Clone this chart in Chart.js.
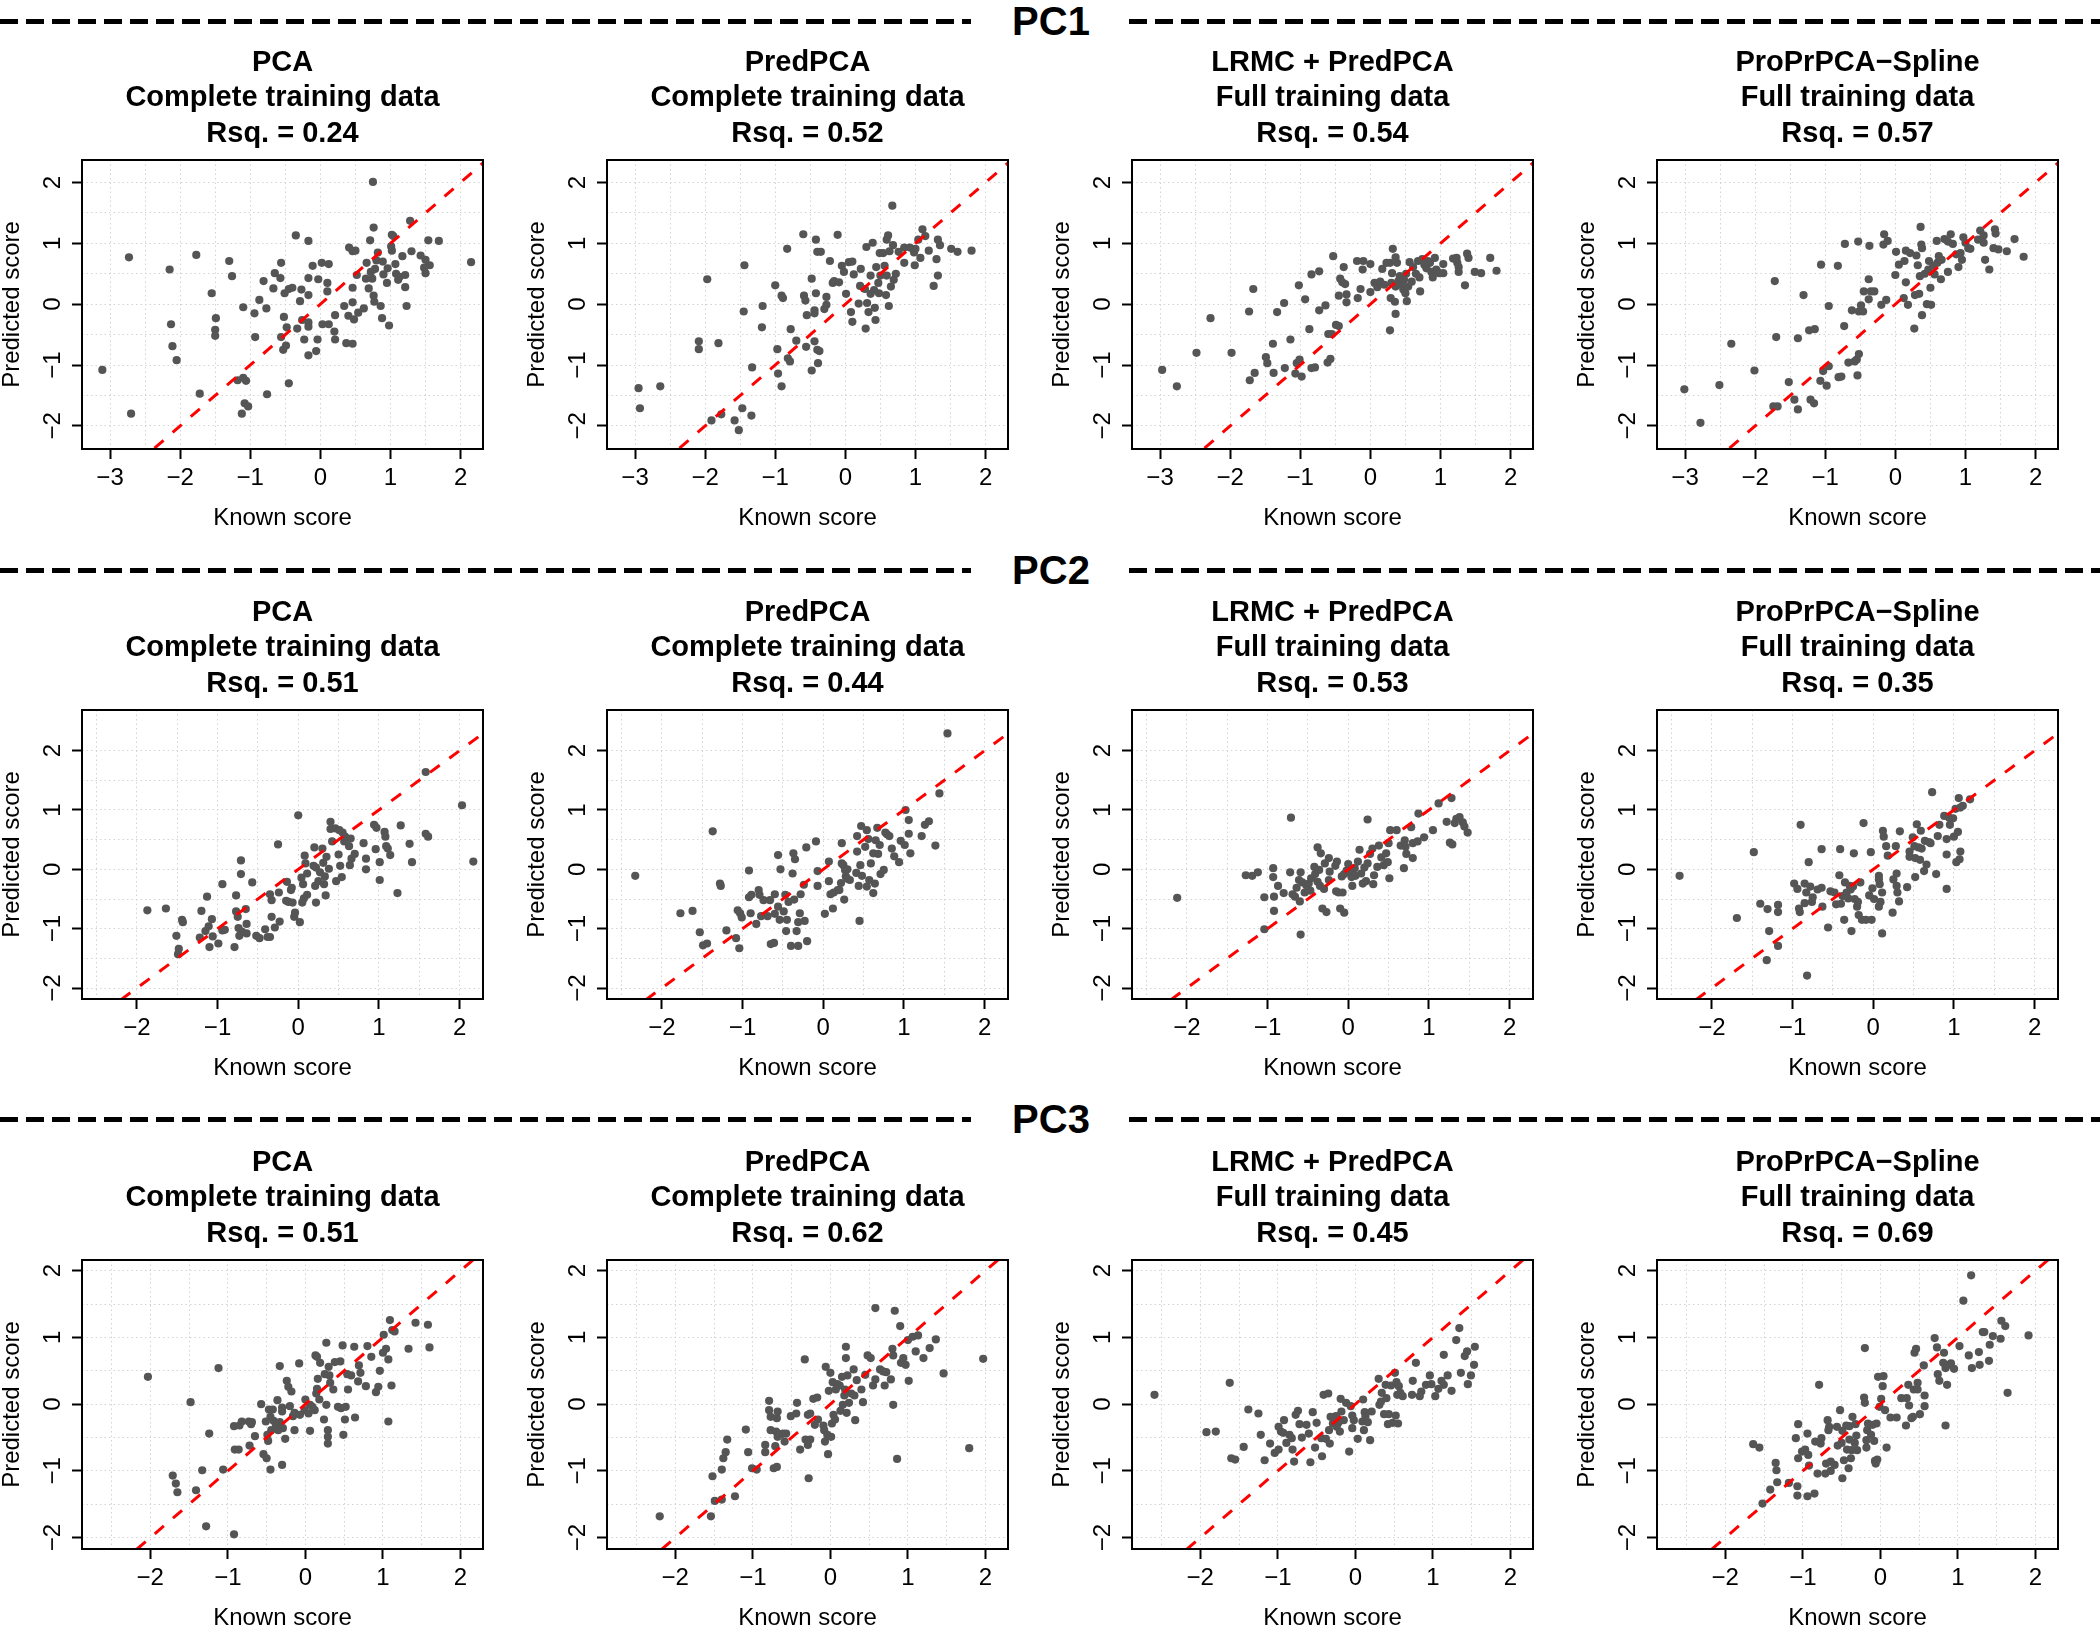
<!DOCTYPE html>
<html><head><meta charset="utf-8">
<script src="https://cdn.jsdelivr.net/npm/chart.js@4.4.1/dist/chart.umd.min.js"></script>
<style>
html,body{margin:0;padding:0;background:#fff;}
#root{position:relative;width:2100px;height:1650px;overflow:hidden;background:#fff;font-family:'Liberation Sans',Arial,sans-serif;}
.panel{position:absolute;}
.hdr-line{position:absolute;height:5px;background:repeating-linear-gradient(to right,#000 0 18px,rgba(0,0,0,0) 18px 26px);}
.hdr-text{position:absolute;font-weight:bold;font-size:40px;line-height:40px;width:160px;text-align:center;color:#000;}
</style></head><body><div id="root"></div>
<script>
const components = ['PC1', 'PC2', 'PC3'];
const methods = ['PCA', 'PredPCA', 'LRMC + PredPCA', 'ProPrPCA\u2212Spline'];
const trainingLabels = ['Complete training data', 'Complete training data', 'Full training data', 'Full training data'];
const rsq = [[0.24, 0.52, 0.54, 0.57], [0.51, 0.44, 0.53, 0.35], [0.51, 0.62, 0.45, 0.69]];
const xLimits = [[-3.40, 2.32], [-2.68, 2.29], [-2.88, 2.29]];
const yLimits = [[-2.38, 2.37], [-2.185, 2.685], [-2.17, 2.16]];
const gridStep = 0.5;
const yGridRange = [-2, 2];
const xAxisTitle = 'Known score';
const yAxisTitle = 'Predicted score';

// [known score, predicted score]
const pc1_PCA = [[-3.11,-1.08],[-2.73,0.77],[-2.70,-1.80],[-2.15,0.57],[-2.13,-0.33],[-2.11,-0.69],[-2.05,-0.92],[-1.77,0.81],[-1.72,-1.47],[-1.55,0.18],[-1.49,-0.23],[-1.50,-0.42],[-1.50,-0.52],[-1.30,0.71],[-1.26,0.46],[-1.18,-1.25],[-1.10,-1.21],[-1.06,-1.26],[-1.10,-0.05],[-1.08,-1.63],[-1.03,-1.68],[-1.12,-1.80],[-0.94,-0.15],[-0.93,-0.54],[-0.87,0.07],[-0.81,0.38],[-0.77,-0.07],[-0.76,-1.48],[-0.67,0.26],[-0.65,0.51],[-0.57,0.43],[-0.56,0.68],[-0.56,-0.54],[-0.52,-0.21],[-0.51,0.18],[-0.49,-0.68],[-0.53,-0.75],[-0.48,-0.38],[-0.45,0.25],[-0.40,0.27],[-0.45,-1.30],[-0.35,1.13],[-0.33,-0.40],[-0.29,0.05],[-0.27,0.24],[-0.26,-0.26],[-0.23,-0.58],[-0.17,-0.30],[-0.17,-0.37],[-0.17,0.15],[-0.17,0.43],[-0.17,1.04],[-0.17,-0.84],[-0.11,0.63],[-0.06,-0.77],[-0.04,-0.58],[-0.03,0.41],[0.02,0.68],[0.03,-0.33],[0.10,0.35],[0.10,0.21],[0.12,0.66],[0.12,-0.33],[0.20,-0.45],[0.21,-0.58],[0.21,-0.18],[0.34,-0.03],[0.37,-0.64],[0.40,-0.19],[0.41,0.93],[0.46,0.87],[0.46,-0.65],[0.46,0.27],[0.46,0.03],[0.48,-0.25],[0.50,0.88],[0.52,0.48],[0.54,-0.14],[0.62,-0.07],[0.65,0.42],[0.66,0.68],[0.69,0.26],[0.71,1.05],[0.72,0.53],[0.74,0.42],[0.75,2.01],[0.76,0.14],[0.76,1.26],[0.77,0.04],[0.78,0.58],[0.82,0.85],[0.80,0.72],[0.86,-0.03],[0.88,-0.23],[0.89,0.70],[0.90,0.49],[0.95,0.35],[0.96,0.59],[0.98,-0.35],[1.02,1.14],[1.02,0.88],[1.04,1.12],[1.01,0.95],[1.07,0.66],[1.08,0.50],[1.11,0.40],[1.13,0.45],[1.17,0.79],[1.21,0.48],[1.21,0.28],[1.23,-0.03],[1.28,1.37],[1.30,0.87],[1.43,0.80],[1.50,0.73],[1.56,0.64],[1.48,0.60],[1.50,0.51],[1.54,1.05],[1.69,1.04],[2.15,0.69]];
const pc1_PredPCA = [[-2.95,-1.38],[-2.93,-1.71],[-2.64,-1.35],[-2.09,-0.61],[-2.09,-0.74],[-1.97,0.41],[-1.91,-1.91],[-1.81,-0.64],[-1.77,-1.81],[-1.58,-1.91],[-1.52,-2.07],[-1.47,-1.71],[-1.45,-0.12],[-1.44,0.64],[-1.34,-1.83],[-1.33,-1.04],[-1.19,-0.38],[-1.18,-0.03],[-1.00,0.31],[-0.97,-0.74],[-0.96,-1.14],[-0.91,-1.35],[-0.91,0.14],[-0.89,0.10],[-0.83,0.91],[-0.82,-0.89],[-0.79,-0.94],[-0.78,-0.41],[-0.70,-0.60],[-0.60,1.15],[-0.59,0.14],[-0.57,0.06],[-0.56,-0.70],[-0.55,-0.18],[-0.48,0.42],[-0.48,-1.09],[-0.44,-0.61],[-0.44,-0.15],[-0.44,-0.10],[-0.42,0.18],[-0.42,1.06],[-0.40,0.86],[-0.35,0.86],[-0.40,-0.75],[-0.37,-0.77],[-0.39,-0.97],[-0.30,-0.08],[-0.27,0.12],[-0.27,-0.01],[-0.22,0.71],[-0.18,0.35],[-0.16,0.38],[-0.11,1.14],[-0.09,0.36],[-0.05,0.63],[-0.02,0.53],[0.01,0.17],[0.05,0.69],[0.08,-0.13],[0.10,-0.29],[0.10,0.70],[0.12,0.49],[0.19,0.01],[0.21,0.30],[0.22,0.58],[0.28,0.25],[0.29,-0.40],[0.30,0.94],[0.31,0.02],[0.33,-0.13],[0.36,0.17],[0.36,0.47],[0.39,1.01],[0.41,0.23],[0.42,-0.06],[0.43,-0.26],[0.44,0.61],[0.47,0.35],[0.48,0.18],[0.49,0.84],[0.50,0.47],[0.54,0.84],[0.56,0.63],[0.58,0.15],[0.59,0.47],[0.59,1.06],[0.61,1.13],[0.62,-0.03],[0.63,0.87],[0.65,0.29],[0.67,1.62],[0.68,0.97],[0.69,0.40],[0.72,0.50],[0.76,0.86],[0.84,0.68],[0.84,0.93],[0.92,0.93],[0.98,0.85],[0.99,0.64],[1.00,0.91],[1.04,1.06],[1.07,0.76],[1.10,1.23],[1.14,1.12],[1.19,0.88],[1.26,0.30],[1.30,0.74],[1.32,0.47],[1.32,1.06],[1.35,0.97],[1.51,0.91],[1.60,0.86],[1.80,0.88]];
const pc1_LRMC = [[-2.97,-1.08],[-2.76,-1.35],[-2.48,-0.80],[-2.28,-0.23],[-1.98,-0.80],[-1.73,-0.12],[-1.72,-1.25],[-1.67,0.25],[-1.65,-1.13],[-1.49,-0.87],[-1.47,-0.97],[-1.39,-0.65],[-1.38,-1.13],[-1.33,-0.13],[-1.23,0.02],[-1.22,-1.05],[-1.14,-0.58],[-1.07,-1.14],[-1.05,-0.97],[-1.02,0.31],[-1.01,-0.91],[-0.98,-1.19],[-0.93,0.08],[-0.87,-0.41],[-0.84,0.49],[-0.84,-1.05],[-0.79,-1.04],[-0.73,0.54],[-0.73,-0.10],[-0.64,-0.02],[-0.61,-0.96],[-0.60,-0.49],[-0.55,-0.49],[-0.57,-0.90],[-0.53,0.79],[-0.49,-0.34],[-0.45,-0.36],[-0.45,0.14],[-0.43,0.42],[-0.40,0.36],[-0.38,0.61],[-0.36,0.33],[-0.34,0.16],[-0.34,0.03],[-0.19,0.71],[-0.18,0.10],[-0.14,0.25],[-0.11,0.57],[-0.10,0.71],[0.00,0.66],[0.00,0.20],[0.06,0.35],[0.10,0.28],[0.14,0.37],[0.17,0.58],[0.20,0.32],[0.23,0.68],[0.28,0.68],[0.28,-0.43],[0.29,0.10],[0.30,0.35],[0.31,0.51],[0.32,0.91],[0.35,0.04],[0.36,-0.16],[0.36,0.29],[0.36,0.77],[0.38,0.68],[0.40,0.38],[0.42,0.46],[0.44,0.32],[0.47,0.24],[0.48,0.40],[0.50,0.18],[0.51,0.50],[0.52,0.05],[0.54,0.29],[0.56,0.69],[0.59,0.37],[0.61,0.61],[0.65,0.50],[0.68,0.71],[0.70,0.44],[0.71,0.21],[0.74,0.74],[0.77,0.65],[0.80,0.59],[0.82,0.71],[0.85,0.68],[0.87,0.53],[0.89,0.44],[0.92,0.76],[0.94,0.57],[0.98,0.51],[1.04,0.51],[1.04,0.66],[1.18,0.75],[1.23,0.76],[1.24,0.68],[1.26,0.61],[1.26,0.53],[1.35,0.31],[1.38,0.83],[1.40,0.76],[1.49,0.53],[1.58,0.51],[1.71,0.76],[1.80,0.55]];
const pc1_Spline = [[-3.01,-1.40],[-2.78,-1.95],[-2.51,-1.33],[-2.34,-0.65],[-2.01,-1.09],[-1.74,-1.68],[-1.68,-1.68],[-1.72,0.38],[-1.70,-0.54],[-1.52,-1.28],[-1.44,-1.57],[-1.39,-1.73],[-1.39,-0.56],[-1.31,0.15],[-1.23,-0.43],[-1.15,-0.41],[-1.21,-1.57],[-1.16,-1.63],[-1.07,-1.26],[-1.06,0.65],[-1.03,-1.10],[-0.98,-1.34],[-0.95,-1.02],[-0.95,-0.03],[-0.82,0.63],[-0.81,-1.20],[-0.77,-1.19],[-0.73,-0.36],[-0.72,0.99],[-0.67,-0.96],[-0.62,-0.10],[-0.58,-0.94],[-0.55,-0.91],[-0.53,1.03],[-0.52,-0.82],[-0.54,-1.17],[-0.52,-0.12],[-0.49,-0.02],[-0.46,-0.12],[-0.45,0.21],[-0.38,0.41],[-0.38,0.08],[-0.37,0.96],[-0.35,0.21],[-0.30,0.21],[-0.20,-0.01],[-0.17,0.98],[-0.16,1.15],[-0.13,0.07],[-0.11,1.04],[0.00,0.48],[0.01,0.86],[0.05,0.65],[0.12,0.10],[0.13,0.71],[0.15,0.88],[0.15,0.36],[0.18,-0.01],[0.21,0.84],[0.27,-0.40],[0.28,0.15],[0.30,0.80],[0.32,0.64],[0.34,0.17],[0.35,0.46],[0.36,1.27],[0.37,0.98],[0.38,-0.18],[0.38,0.92],[0.42,0.50],[0.45,0.00],[0.47,0.57],[0.48,0.71],[0.50,0.27],[0.51,-0.01],[0.54,0.63],[0.56,0.49],[0.59,1.04],[0.60,0.68],[0.62,0.79],[0.65,0.41],[0.66,0.73],[0.70,1.07],[0.75,0.53],[0.75,1.03],[0.79,1.15],[0.82,0.99],[0.87,0.82],[0.90,0.61],[0.93,0.84],[0.95,0.73],[0.97,1.10],[1.00,1.01],[1.04,0.92],[1.07,0.91],[1.18,1.06],[1.21,1.21],[1.26,1.13],[1.26,1.01],[1.28,0.73],[1.34,0.57],[1.40,0.92],[1.42,1.23],[1.43,1.16],[1.47,0.90],[1.59,0.87],[1.70,1.07],[1.83,0.78]];
const pc2_PCA = [[-1.87,-0.69],[-1.64,-0.66],[-1.51,-1.12],[-1.48,-1.34],[-1.49,-1.43],[-1.44,-0.85],[-1.43,-0.89],[-1.22,-1.15],[-1.20,-0.70],[-1.15,-1.04],[-1.13,-0.46],[-1.11,-0.96],[-1.10,-1.31],[-1.07,-0.84],[-1.06,-1.13],[-0.99,-1.25],[-0.94,-0.25],[-0.94,-1.03],[-0.91,-1.02],[-0.79,-1.31],[-0.77,-0.44],[-0.77,-0.71],[-0.75,-0.80],[-0.74,-0.99],[-0.73,-1.12],[-0.71,0.15],[-0.71,-0.08],[-0.70,-1.05],[-0.65,-0.67],[-0.64,-0.92],[-0.64,-1.08],[-0.57,-0.22],[-0.52,-1.12],[-0.48,-1.16],[-0.41,-1.01],[-0.38,-1.14],[-0.35,-1.14],[-0.35,-0.42],[-0.33,-0.52],[-0.33,-0.80],[-0.29,-0.98],[-0.25,0.42],[-0.24,-0.39],[-0.23,-0.88],[-0.15,-0.53],[-0.14,-0.21],[-0.12,-0.55],[-0.09,-0.35],[-0.08,-0.31],[-0.07,-0.56],[-0.05,-0.80],[-0.04,-0.73],[0.00,0.91],[0.02,-0.89],[0.04,-0.14],[0.05,-0.56],[0.06,-0.25],[0.07,-0.49],[0.08,0.23],[0.09,0.10],[0.11,-0.43],[0.11,-0.07],[0.19,0.06],[0.20,0.37],[0.21,-0.28],[0.22,0.03],[0.22,-0.56],[0.25,-0.20],[0.27,-0.05],[0.30,0.35],[0.31,0.11],[0.32,-0.25],[0.33,-0.12],[0.34,-0.44],[0.35,0.21],[0.38,0.01],[0.40,0.80],[0.42,0.47],[0.40,0.68],[0.46,0.69],[0.47,-0.20],[0.50,0.25],[0.51,0.66],[0.52,0.06],[0.54,-0.13],[0.55,0.62],[0.57,0.47],[0.58,0.55],[0.63,0.39],[0.64,0.07],[0.65,0.52],[0.66,0.18],[0.70,0.26],[0.81,0.44],[0.84,0.18],[0.84,0.00],[0.94,0.75],[0.96,0.34],[0.97,0.70],[1.01,-0.18],[1.01,0.12],[1.07,0.63],[1.08,0.55],[1.09,0.39],[1.11,0.35],[1.14,0.24],[1.23,-0.40],[1.27,0.74],[1.38,0.43],[1.41,0.12],[1.58,1.64],[1.58,0.60],[1.61,0.55],[2.03,1.08],[2.17,0.13]];
const pc2_PredPCA = [[-2.33,-0.11],[-1.77,-0.74],[-1.62,-0.70],[-1.53,-1.06],[-1.49,-1.28],[-1.44,-1.25],[-1.37,0.64],[-1.28,-0.24],[-1.27,-0.28],[-1.20,-1.03],[-1.08,-1.16],[-1.06,-0.69],[-1.04,-1.33],[-1.03,-0.74],[-1.01,-0.81],[-0.92,-0.02],[-0.92,-0.47],[-0.90,-0.74],[-0.89,-0.43],[-0.83,-0.92],[-0.80,-0.35],[-0.79,-0.43],[-0.77,-0.79],[-0.74,-0.52],[-0.69,-0.79],[-0.66,-0.52],[-0.65,-1.26],[-0.61,-1.24],[-0.60,-0.42],[-0.60,-0.75],[-0.56,0.24],[-0.56,-0.63],[-0.54,-0.85],[-0.53,0.00],[-0.49,-0.71],[-0.47,-0.43],[-0.46,-1.04],[-0.45,-0.85],[-0.43,-0.55],[-0.40,-1.29],[-0.38,-0.07],[-0.37,0.27],[-0.36,-0.51],[-0.35,0.17],[-0.33,-1.04],[-0.31,-1.29],[-0.31,-0.89],[-0.29,-0.74],[-0.28,-0.42],[-0.24,-0.26],[-0.23,-0.87],[-0.21,0.37],[-0.20,-1.21],[-0.09,0.47],[-0.07,-0.03],[-0.07,-0.28],[0.02,-0.75],[0.07,0.13],[0.07,-0.20],[0.09,-0.42],[0.12,-0.66],[0.13,-0.39],[0.18,-0.35],[0.20,-0.35],[0.22,-0.23],[0.23,0.44],[0.23,0.10],[0.25,0.07],[0.26,-0.51],[0.27,-0.01],[0.28,-0.12],[0.30,0.00],[0.30,-0.16],[0.33,-0.18],[0.41,-0.06],[0.42,0.30],[0.42,0.56],[0.44,-0.28],[0.45,-0.87],[0.46,0.07],[0.47,0.73],[0.48,-0.11],[0.52,0.38],[0.54,-0.29],[0.54,0.66],[0.56,0.51],[0.57,-0.18],[0.59,0.10],[0.62,0.27],[0.62,-0.40],[0.64,-0.24],[0.65,0.49],[0.67,0.70],[0.68,0.26],[0.70,0.41],[0.71,-0.08],[0.75,-0.01],[0.77,0.62],[0.79,0.59],[0.82,0.56],[0.85,0.35],[0.88,0.22],[0.94,0.12],[0.96,0.48],[1.01,0.41],[1.02,1.00],[1.06,0.83],[1.06,0.60],[1.08,0.27],[1.22,0.56],[1.26,0.75],[1.31,0.81],[1.39,0.40],[1.44,1.28],[1.54,2.29]];
const pc2_LRMC = [[-2.12,-0.48],[-1.27,-0.10],[-1.19,-0.11],[-1.12,-0.05],[-1.04,-1.01],[-1.04,-0.47],[-0.93,0.02],[-0.93,-0.13],[-0.92,-0.46],[-0.92,-0.70],[-0.87,-0.28],[-0.80,-0.40],[-0.72,-0.05],[-0.71,0.87],[-0.69,-0.42],[-0.66,-0.46],[-0.64,-0.31],[-0.61,-0.18],[-0.60,-0.54],[-0.59,-1.10],[-0.59,-0.05],[-0.57,-0.22],[-0.54,-0.39],[-0.52,-0.27],[-0.49,-0.24],[-0.47,-0.36],[-0.46,-0.15],[-0.42,0.04],[-0.41,-0.08],[-0.38,-0.21],[-0.38,0.37],[-0.36,-0.01],[-0.35,-0.28],[-0.34,0.27],[-0.32,-0.66],[-0.30,-0.33],[-0.29,0.10],[-0.27,-0.72],[-0.24,0.19],[-0.24,-0.18],[-0.23,-0.04],[-0.16,0.06],[-0.15,-0.37],[-0.14,0.13],[-0.12,-0.39],[-0.10,-0.66],[-0.08,-0.12],[-0.07,-0.39],[-0.05,-0.08],[-0.05,-0.73],[-0.02,-0.02],[0.00,0.09],[0.02,-0.04],[0.04,-0.13],[0.05,-0.28],[0.08,0.02],[0.09,-0.11],[0.12,0.13],[0.14,0.33],[0.16,-0.07],[0.18,-0.24],[0.20,0.03],[0.22,-0.20],[0.24,0.10],[0.24,0.84],[0.27,0.26],[0.30,0.35],[0.31,-0.25],[0.32,-0.10],[0.36,0.04],[0.38,0.40],[0.41,0.20],[0.44,0.07],[0.47,0.27],[0.49,0.12],[0.50,0.44],[0.51,-0.15],[0.52,0.66],[0.60,0.66],[0.65,0.40],[0.69,0.02],[0.70,0.49],[0.71,0.38],[0.72,0.26],[0.78,0.71],[0.80,0.44],[0.80,0.19],[0.86,0.47],[0.87,0.94],[0.94,0.54],[1.05,0.66],[1.12,1.11],[1.22,0.80],[1.26,0.45],[1.28,1.20],[1.29,0.42],[1.32,0.78],[1.34,0.85],[1.38,0.88],[1.42,0.79],[1.44,0.72],[1.48,0.62]];
const pc2_Spline = [[-2.40,-0.11],[-1.69,-0.82],[-1.48,0.29],[-1.40,-0.58],[-1.31,-0.67],[-1.32,-1.53],[-1.29,-1.04],[-1.18,-0.60],[-1.18,-0.72],[-1.18,-1.29],[-0.98,-0.24],[-0.94,-0.33],[-0.92,-0.66],[-0.91,-0.72],[-0.90,0.75],[-0.85,-0.24],[-0.85,-0.57],[-0.83,-0.39],[-0.82,-1.79],[-0.80,0.12],[-0.78,-0.29],[-0.76,-0.55],[-0.75,-0.47],[-0.69,-0.34],[-0.64,-0.31],[-0.64,0.34],[-0.63,-0.63],[-0.56,-0.98],[-0.53,-0.37],[-0.48,-0.39],[-0.46,-0.59],[-0.42,-0.10],[-0.41,0.34],[-0.40,-0.58],[-0.38,-0.45],[-0.36,-0.85],[-0.35,-0.22],[-0.33,-0.39],[-0.31,-0.49],[-0.29,-0.28],[-0.28,-0.34],[-0.27,-1.04],[-0.25,-0.29],[-0.24,0.27],[-0.23,-0.50],[-0.20,-0.63],[-0.19,-0.55],[-0.18,-0.77],[-0.16,-0.22],[-0.14,-0.85],[-0.12,0.78],[-0.09,-0.85],[-0.05,-0.44],[-0.03,0.29],[-0.02,-0.85],[-0.01,-0.32],[0.01,-0.50],[0.07,-0.11],[0.07,-0.17],[0.07,-0.63],[0.08,-0.25],[0.09,-0.55],[0.11,-1.08],[0.11,-0.39],[0.12,0.65],[0.13,0.55],[0.16,0.39],[0.18,0.23],[0.24,-0.73],[0.25,-0.17],[0.28,0.39],[0.29,-0.07],[0.29,-0.28],[0.30,-0.39],[0.32,-0.54],[0.33,0.64],[0.42,-0.30],[0.45,0.30],[0.45,0.21],[0.49,0.54],[0.51,0.39],[0.52,-0.13],[0.52,0.19],[0.54,0.76],[0.56,0.37],[0.58,0.16],[0.59,0.65],[0.60,0.35],[0.63,-0.03],[0.64,0.48],[0.66,0.08],[0.69,0.46],[0.71,0.44],[0.73,1.30],[0.78,-0.08],[0.80,0.56],[0.82,0.75],[0.88,0.90],[0.91,0.51],[0.91,0.25],[0.91,-0.33],[0.94,0.87],[0.95,0.75],[0.99,0.86],[1.00,0.55],[1.02,1.02],[1.03,0.12],[1.05,0.63],[1.06,1.20],[1.07,0.17],[1.08,1.04],[1.08,0.30],[1.11,1.07],[1.20,1.18]];
const pc3_PCA = [[-2.03,0.41],[-1.71,-1.07],[-1.67,-1.19],[-1.65,-1.32],[-1.48,0.03],[-1.41,-1.29],[-1.33,-0.99],[-1.28,-1.83],[-1.24,-0.44],[-1.12,0.54],[-1.06,-0.98],[-0.92,-0.33],[-0.92,-1.95],[-0.91,-0.68],[-0.86,-0.68],[-0.85,-0.32],[-0.82,-0.26],[-0.73,-0.26],[-0.72,-0.62],[-0.70,-0.30],[-0.69,-0.27],[-0.65,-0.48],[-0.54,-0.75],[-0.50,-0.81],[-0.57,0.00],[-0.51,-0.26],[-0.49,-0.46],[-0.48,-0.55],[-0.47,-0.08],[-0.45,-0.19],[-0.45,-0.98],[-0.44,-0.39],[-0.42,-0.08],[-0.41,-0.25],[-0.38,-0.31],[-0.36,0.06],[-0.35,-0.39],[-0.33,0.57],[-0.33,-0.27],[-0.30,-0.05],[-0.30,-0.11],[-0.29,-0.36],[-0.30,-0.91],[-0.26,-0.52],[-0.24,0.35],[-0.22,0.26],[-0.20,-0.03],[-0.18,0.19],[-0.16,-0.18],[-0.14,-0.39],[-0.14,-0.13],[-0.08,0.61],[-0.07,-0.16],[-0.01,-0.09],[0.00,0.07],[0.04,-0.14],[0.06,-0.40],[0.06,-0.01],[0.09,-0.04],[0.12,-0.09],[0.13,0.73],[0.15,0.71],[0.14,0.16],[0.15,0.23],[0.16,0.38],[0.18,0.07],[0.19,0.62],[0.24,-0.23],[0.25,0.45],[0.27,-0.01],[0.27,0.92],[0.29,-0.39],[0.29,-0.49],[0.29,-0.59],[0.30,0.56],[0.31,0.43],[0.32,0.32],[0.36,0.22],[0.38,0.63],[0.42,-0.04],[0.45,0.64],[0.46,-0.06],[0.48,0.88],[0.49,-0.46],[0.51,-0.23],[0.52,-0.04],[0.54,0.45],[0.55,0.22],[0.59,0.43],[0.63,0.86],[0.64,-0.20],[0.68,0.34],[0.69,0.58],[0.71,0.47],[0.78,0.27],[0.80,0.87],[0.85,0.71],[0.91,0.18],[0.94,0.26],[0.96,0.50],[1.00,0.77],[1.01,1.04],[1.04,0.83],[1.07,0.67],[1.07,-0.26],[1.09,1.26],[1.11,0.28],[1.12,1.11],[1.15,1.09],[1.33,0.83],[1.42,1.22],[1.58,1.19],[1.60,0.85]];
const pc3_PredPCA = [[-2.20,-1.68],[-1.54,-1.68],[-1.52,-1.08],[-1.49,-1.45],[-1.40,-1.43],[-1.40,-0.98],[-1.38,-0.81],[-1.35,-0.72],[-1.33,-0.53],[-1.23,-1.38],[-1.09,-0.38],[-1.06,-0.72],[-1.01,-0.96],[-0.95,-0.98],[-0.84,-0.61],[-0.84,-0.72],[-0.79,0.05],[-0.79,-0.09],[-0.77,-0.39],[-0.77,-0.19],[-0.73,-0.96],[-0.71,-0.63],[-0.70,-0.41],[-0.69,-0.94],[-0.69,-0.21],[-0.68,-0.11],[-0.68,-0.49],[-0.64,-0.45],[-0.61,-0.44],[-0.59,-0.56],[-0.57,-0.44],[-0.51,-0.18],[-0.44,-0.14],[-0.43,0.02],[-0.39,-0.68],[-0.33,0.67],[-0.32,-0.53],[-0.29,-0.16],[-0.29,-0.61],[-0.28,-1.11],[-0.26,-0.53],[-0.26,-0.14],[-0.22,0.08],[-0.20,-0.31],[-0.17,0.10],[-0.16,-0.23],[-0.09,-0.32],[-0.08,-0.39],[-0.07,-0.56],[-0.06,0.56],[-0.04,-0.46],[-0.03,-0.75],[-0.02,0.20],[0.00,0.47],[0.01,-0.49],[0.02,-0.29],[0.03,0.33],[0.04,-0.16],[0.06,-0.23],[0.07,0.22],[0.09,0.30],[0.12,0.28],[0.13,-0.10],[0.15,0.41],[0.16,-0.01],[0.18,0.13],[0.19,0.22],[0.20,0.69],[0.20,0.86],[0.21,-0.13],[0.22,0.43],[0.24,0.02],[0.27,0.16],[0.30,0.52],[0.31,0.13],[0.32,-0.24],[0.34,0.36],[0.40,0.22],[0.42,0.03],[0.45,0.44],[0.48,0.73],[0.52,0.69],[0.55,0.28],[0.58,0.37],[0.58,1.44],[0.64,0.52],[0.68,0.49],[0.70,0.28],[0.72,0.48],[0.78,0.37],[0.80,0.83],[0.81,-0.01],[0.81,0.73],[0.83,1.40],[0.86,-0.82],[0.90,1.17],[0.91,0.62],[0.94,0.69],[0.97,0.59],[1.00,0.96],[1.01,0.35],[1.06,1.01],[1.10,0.79],[1.13,1.03],[1.20,0.69],[1.28,0.84],[1.36,0.97],[1.46,0.46],[1.79,-0.66],[1.97,0.68]];
const pc3_LRMC = [[-2.59,0.14],[-1.92,-0.42],[-1.80,-0.41],[-1.62,0.32],[-1.60,-0.81],[-1.55,-0.83],[-1.44,-0.64],[-1.38,-0.08],[-1.25,-0.14],[-1.22,-0.46],[-1.17,-0.84],[-1.10,-0.59],[-1.04,-0.73],[-0.99,-0.34],[-0.99,-0.68],[-0.96,-0.41],[-0.93,-0.43],[-0.92,-0.24],[-0.89,-0.58],[-0.85,-0.46],[-0.82,-0.51],[-0.81,-0.68],[-0.79,-0.86],[-0.77,-0.16],[-0.74,-0.10],[-0.72,-0.30],[-0.69,-0.50],[-0.63,-0.31],[-0.60,-0.44],[-0.58,-0.87],[-0.55,-0.12],[-0.52,-0.65],[-0.50,-0.28],[-0.44,-0.51],[-0.43,-0.78],[-0.41,0.14],[-0.38,-0.52],[-0.35,0.16],[-0.34,-0.39],[-0.33,-0.59],[-0.32,-0.19],[-0.29,-0.29],[-0.25,-0.18],[-0.24,-0.34],[-0.22,-0.28],[-0.20,-0.41],[-0.19,0.08],[-0.18,-0.11],[-0.15,-0.24],[-0.12,0.02],[-0.08,-0.71],[-0.06,-0.03],[-0.04,-0.17],[-0.04,-0.36],[-0.02,-0.24],[0.03,-0.52],[0.09,-0.26],[0.10,0.07],[0.11,-0.39],[0.12,-0.12],[0.13,-0.18],[0.16,-0.27],[0.19,-0.54],[0.21,-0.11],[0.30,0.38],[0.31,-0.01],[0.33,0.04],[0.34,0.17],[0.37,-0.15],[0.39,0.29],[0.40,0.09],[0.42,-0.30],[0.43,-0.15],[0.46,0.28],[0.48,-0.28],[0.51,0.47],[0.52,-0.17],[0.53,0.33],[0.54,0.14],[0.55,-0.29],[0.56,0.27],[0.58,0.17],[0.61,0.12],[0.73,0.14],[0.74,0.35],[0.78,0.62],[0.83,0.12],[0.85,0.19],[0.91,0.29],[0.96,0.43],[0.98,0.30],[1.03,0.12],[1.07,0.23],[1.11,0.35],[1.14,0.74],[1.14,0.29],[1.19,0.43],[1.24,0.20],[1.30,0.96],[1.34,1.14],[1.36,0.47],[1.41,0.72],[1.44,0.79],[1.45,0.30],[1.49,0.43],[1.53,0.59],[1.54,0.86]];
const pc3_Spline = [[-1.64,-0.60],[-1.56,-0.65],[-1.52,-1.49],[-1.42,-1.28],[-1.35,-0.88],[-1.34,-0.99],[-1.33,-1.17],[-1.18,-1.18],[-1.09,-0.51],[-1.07,-1.37],[-1.07,-1.23],[-1.06,-0.30],[-1.06,-0.81],[-1.01,-0.71],[-0.97,-0.68],[-0.94,-0.44],[-0.94,-1.38],[-0.93,-0.76],[-0.92,-0.92],[-0.85,-1.34],[-0.84,-0.56],[-0.81,-1.04],[-0.79,0.29],[-0.77,-0.59],[-0.76,-0.51],[-0.71,-1.04],[-0.70,-0.89],[-0.68,-0.24],[-0.67,-0.39],[-0.66,-0.34],[-0.64,-0.86],[-0.64,-1.00],[-0.59,-0.91],[-0.56,-0.34],[-0.55,-0.62],[-0.52,-0.09],[-0.50,-0.58],[-0.49,-0.40],[-0.49,-1.11],[-0.47,-0.84],[-0.44,-0.32],[-0.43,-0.68],[-0.41,-0.96],[-0.40,-0.33],[-0.40,-0.53],[-0.38,-0.81],[-0.37,-0.69],[-0.36,-0.19],[-0.33,-0.58],[-0.32,-0.30],[-0.31,-0.47],[-0.30,-0.69],[-0.21,0.10],[-0.20,0.02],[-0.20,0.84],[-0.18,-0.54],[-0.18,-0.65],[-0.17,-0.39],[-0.16,-0.29],[-0.12,-0.46],[-0.10,-0.31],[-0.08,-0.55],[-0.07,-0.85],[-0.06,-0.89],[-0.05,-0.29],[-0.04,-0.83],[-0.03,0.41],[-0.01,-0.04],[0.01,0.08],[0.03,0.27],[0.04,0.42],[0.06,-0.09],[0.08,-0.65],[0.13,-0.20],[0.21,-0.20],[0.27,0.09],[0.33,-0.32],[0.34,0.09],[0.36,0.29],[0.37,-0.02],[0.40,-0.21],[0.42,-0.19],[0.43,0.22],[0.44,0.77],[0.46,0.83],[0.48,0.32],[0.48,0.22],[0.51,-0.15],[0.56,0.58],[0.57,0.13],[0.57,-0.03],[0.70,0.99],[0.73,0.85],[0.74,0.45],[0.76,0.35],[0.81,0.62],[0.82,0.77],[0.84,-0.32],[0.84,0.54],[0.86,0.29],[0.88,0.59],[0.91,0.61],[0.95,0.53],[1.02,0.87],[1.07,1.55],[1.14,0.73],[1.17,1.93],[1.18,0.54],[1.27,0.78],[1.28,0.59],[1.32,1.08],[1.34,1.08],[1.41,0.89],[1.40,0.65],[1.45,1.02],[1.55,0.98],[1.56,1.25],[1.61,1.17],[1.64,0.17],[1.91,1.03]];

const scores = [
  [pc1_PCA, pc1_PredPCA, pc1_LRMC, pc1_Spline],
  [pc2_PCA, pc2_PredPCA, pc2_LRMC, pc2_Spline],
  [pc3_PCA, pc3_PredPCA, pc3_LRMC, pc3_Spline]
];

// ---------- layout ----------
const FONT = "'Liberation Sans', Arial, Helvetica, sans-serif";
const plotLefts = [82, 607, 1132, 1657];
const plotTops = [160, 710, 1260];
const plotW = 401, plotH = 289;
const leftRoom = 80, topRoom = 120, bottomRoom = 90, rightRoom = 20;
const headerCenters = [21, 570, 1119];

const root = document.getElementById('root');

headerCenters.forEach((yc, r) => {
  const l = document.createElement('div');
  l.className = 'hdr-line';
  l.style.left = '0px'; l.style.width = '971px'; l.style.top = (yc - 2.5) + 'px';
  root.appendChild(l);
  const rr = document.createElement('div');
  rr.className = 'hdr-line';
  rr.style.left = '1129px'; rr.style.width = '971px'; rr.style.top = (yc - 2.5) + 'px';
  root.appendChild(rr);
  const t = document.createElement('div');
  t.className = 'hdr-text';
  t.textContent = components[r];
  t.style.left = (1051 - 80) + 'px'; t.style.top = (yc - 20) + 'px';
  root.appendChild(t);
});

const isInt = v => Math.abs(v - Math.round(v)) < 1e-6;
const fmt = v => { const n = Math.round(v); return n < 0 ? '\u2212' + Math.abs(n) : String(n); };

const boxPlugin = {
  id: 'plotBox',
  afterDatasetsDraw(chart) {
    const { ctx, chartArea: a } = chart;
    ctx.save();
    ctx.strokeStyle = '#000';
    ctx.lineWidth = 2;
    ctx.strokeRect(a.left, a.top, a.right - a.left, a.bottom - a.top);
    ctx.restore();
  }
};

for (let r = 0; r < 3; r++) {
  for (let c = 0; c < 4; c++) {
    const cv = document.createElement('canvas');
    const W = leftRoom + plotW + rightRoom, H = topRoom + plotH + bottomRoom;
    cv.width = W; cv.height = H;
    cv.className = 'panel';
    cv.style.left = (plotLefts[c] - leftRoom) + 'px';
    cv.style.top = (plotTops[r] - topRoom) + 'px';
    cv.style.width = W + 'px'; cv.style.height = H + 'px';
    root.appendChild(cv);

    const [xmin, xmax] = xLimits[r];
    const [ymin, ymax] = yLimits[r];
    const lo = Math.min(xmin, ymin), hi = Math.max(xmax, ymax);
    const pts = scores[r][c].map(p => ({ x: p[0], y: p[1] }));

    new Chart(cv, {
      type: 'scatter',
      data: {
        datasets: [
          { type: 'line', data: [{ x: lo, y: lo }, { x: hi, y: hi }], borderColor: '#FF0000', borderWidth: 3,
            borderDash: [12, 12], borderCapStyle: 'butt', pointRadius: 0, fill: false, clip: 0, tension: 0 },
          { data: pts, backgroundColor: '#555555', borderWidth: 0, pointRadius: 4.1, pointHoverRadius: 4.1 }
        ]
      },
      options: {
        responsive: false, animation: false, devicePixelRatio: 1, events: [],
        layout: { padding: { left: 0, right: rightRoom, top: 0, bottom: 0 } },
        plugins: {
          legend: { display: false },
          tooltip: { enabled: false },
          title: {
            display: true, fullSize: false,
            text: [methods[c], trainingLabels[c], 'Rsq. = ' + rsq[r][c].toFixed(2)],
            color: '#000',
            font: { family: FONT, size: 29, weight: 'bold', lineHeight: '35.5px' },
            padding: { top: 5, bottom: 8.5 }
          }
        },
        scales: {
          x: {
            type: 'linear', position: 'bottom', min: xmin, max: xmax,
            afterFit: s => { s.height = bottomRoom; },
            ticks: {
              stepSize: gridStep, includeBounds: false, autoSkip: false, maxTicksLimit: 100,
              maxRotation: 0, minRotation: 0, padding: 7, color: '#000',
              font: { family: FONT, size: 24, lineHeight: '24px' },
              callback: v => isInt(v) ? fmt(v) : ''
            },
            grid: {
              color: ctx => '#D3D3D3', lineWidth: 1, drawTicks: true, tickLength: 10, tickWidth: 2,
              tickColor: ctx => (ctx.tick && isInt(ctx.tick.value)) ? '#000' : 'rgba(0,0,0,0)'
            },
            border: { display: false, dash: [1.5, 3] },
            title: { display: true, text: xAxisTitle, color: '#000', font: { family: FONT, size: 24, lineHeight: '24px' }, padding: { top: 0, bottom: 9 } }
          },
          y: {
            type: 'linear', position: 'left', min: ymin, max: ymax,
            afterFit: s => { s.width = leftRoom; },
            ticks: {
              stepSize: gridStep, includeBounds: false, autoSkip: false, maxTicksLimit: 100,
              minRotation: 90, maxRotation: 90, crossAlign: 'center', padding: 5, color: '#000',
              font: { family: FONT, size: 24, lineHeight: '24px' },
              callback: v => isInt(v) ? fmt(v) : ''
            },
            grid: {
              color: ctx => (ctx.tick && ctx.tick.value >= yGridRange[0] - 1e-6 && ctx.tick.value <= yGridRange[1] + 1e-6) ? '#D3D3D3' : 'rgba(0,0,0,0)',
              lineWidth: 1, drawTicks: true, tickLength: 10, tickWidth: 2,
              tickColor: ctx => (ctx.tick && isInt(ctx.tick.value)) ? '#000' : 'rgba(0,0,0,0)'
            },
            border: { display: false, dash: [1.5, 3] },
            title: { display: true, text: yAxisTitle, color: '#000', font: { family: FONT, size: 24, lineHeight: '20px' }, padding: { top: 0, bottom: 0 } }
          }
        }
      },
      plugins: [boxPlugin]
    });
  }
}
</script></body></html>
